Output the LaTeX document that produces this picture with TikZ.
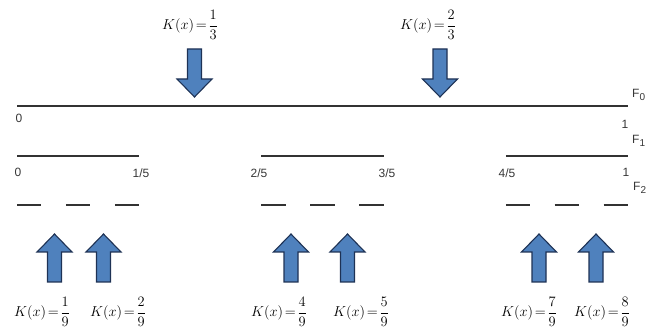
\documentclass[tikz,border=0pt]{standalone}
\usepackage{amsmath}
\usepackage{fontspec}
\setsansfont{Liberation Sans}
\usetikzlibrary{positioning}
\definecolor{kblue}{RGB}{79,129,189}
\definecolor{kedge}{RGB}{30,50,85}
\definecolor{setline}{RGB}{50,50,50}
\definecolor{ticktext}{RGB}{55,55,55}
\newcommand{\fset}[1]{F\raisebox{-3.5pt}{\fontsize{10}{12}\selectfont #1}}
\tikzset{
  kval/.style={font=\fontsize{14.5}{17}\selectfont,inner sep=1pt},
  ticklabel/.style={font=\sffamily\fontsize{12}{14}\selectfont,text=ticktext,inner sep=0pt},
  kpoint/.pic={\draw[fill=kblue,draw=kedge,line width=1.1pt,line join=miter]
    (0,0) -- (17.5,18) -- (7,18) -- (7,48) -- (-7,48) -- (-7,18) -- (-17.5,18) -- cycle;}
}

\begin{document}
\begin{tikzpicture}[x=1pt,y=-1pt]
  \useasboundingbox (0,0) rectangle (654,331);
  % F_0
  \coordinate (f0a) at (17,106); \coordinate (f0b) at (628,106);
  \draw[setline,line width=2.8pt] (f0a) -- (f0b);
  % F_1 and F_2
  \foreach \k in {0,2,4} {
    \coordinate (f1a\k) at (17+\k*122.2,156); \coordinate (f1b\k) at (17+\k*122.2+122.2,156);
    \draw[setline,line width=2.5pt] (f1a\k) -- (f1b\k);
    \foreach \j in {0,2,4} {
      \coordinate (f2a\k\j) at (17+\k*122.2+\j*24.44,205); \coordinate (f2b\k\j) at (17+\k*122.2+\j*24.44+24.44,205);
      \draw[setline,line width=2.8pt] (f2a\k\j) -- (f2b\k\j);
    }
  }
  \node[ticklabel] (t00) at (19,118) {0};
  \node[ticklabel] (t01) at (625,124) {1};
  \foreach \x/\y/\t [count=\i] in {18/172/0,141/173/1\slash5,259/173/2\slash5,387/173/3\slash5,507/173/4\slash5,626/172/1}
    \node[ticklabel] (t1\i) at (\x,\y) {\t};
  \node[ticklabel,anchor=west] (F0) at (632,95) {\fset{0}};
  \node[ticklabel,anchor=west] (F1) at (632,141) {\fset{1}};
  \node[ticklabel,anchor=west] (F2) at (633,188) {\fset{2}};
  % K(x) values
  \pic[rotate=180] at (194.5,97) {kpoint};
  \pic[rotate=180] at (440,97) {kpoint};
  \node[kval] (k13) at (190,25) {$K(x)\!=\!\dfrac{1}{3}$};
  \node[kval] (k23) at (428,25) {$K(x)\!=\!\dfrac{2}{3}$};
  \foreach \a/\l/\n in {54.5/42/1,103.5/118/2,291/279/4,347.5/361/5,539/529/7,596/602/8} {
    \pic at (\a,234) {kpoint};
    \node[kval] (k\n9) at (\l,312) {$K(x)\!=\!\dfrac{\n}{9}$};
  }
\end{tikzpicture}
\end{document}
